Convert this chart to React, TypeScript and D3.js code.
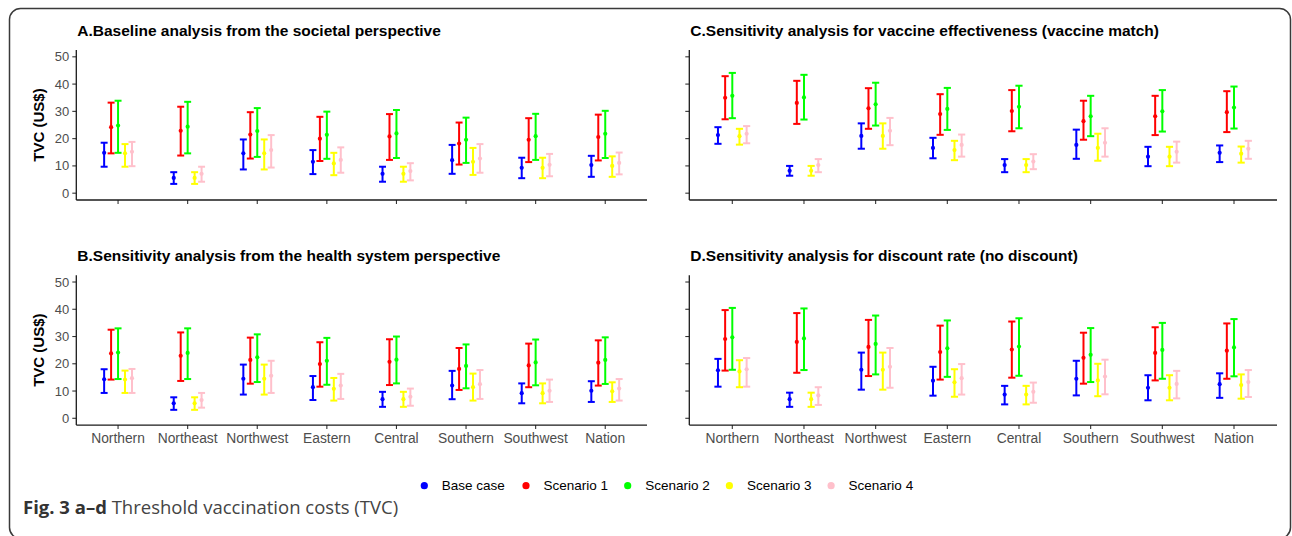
import React from "react";
import * as d3 from "d3";

const categories = ["Northern", "Northeast", "Northwest", "Eastern", "Central", "Southern", "Southwest", "Nation"];
const seriesNames = ["Base case", "Scenario 1", "Scenario 2", "Scenario 3", "Scenario 4"];
const seriesColors = ["#0000FF", "#FF0000", "#00FF00", "#FFFF00", "#FFC0CB"];
const yTicks = [0, 10, 20, 30, 40, 50];

// Panel A: baseline, societal perspective (rows: series, cols: categories)
const A_mid = [
  [14.8, 5.6, 14.6, 11.5, 7.1, 12.1, 9.3, 10.3],
  [24.2, 22.9, 21.5, 20.0, 20.8, 18.2, 19.6, 20.6],
  [24.8, 24.4, 22.8, 21.4, 21.9, 19.6, 20.9, 21.8],
  [14.6, 5.6, 14.6, 10.9, 7.1, 11.5, 9.3, 10.0],
  [15.2, 7.1, 15.8, 12.2, 8.1, 12.7, 10.4, 11.1],
];
const A_lo = [
  [9.7, 3.4, 8.7, 7.0, 4.2, 7.1, 5.5, 6.0],
  [14.6, 13.8, 12.7, 11.8, 12.2, 10.5, 11.4, 12.0],
  [14.8, 14.6, 13.3, 12.6, 12.9, 11.1, 12.2, 12.9],
  [9.7, 3.4, 8.7, 6.6, 4.2, 6.7, 5.5, 6.0],
  [9.9, 4.2, 9.4, 7.5, 4.7, 7.5, 6.2, 6.9],
];
const A_hi = [
  [18.5, 7.7, 19.7, 15.8, 9.7, 17.7, 13.0, 13.7],
  [33.2, 31.7, 29.7, 28.0, 29.0, 25.9, 27.5, 28.8],
  [33.9, 33.5, 31.2, 29.9, 30.5, 27.7, 29.1, 30.2],
  [18.0, 7.7, 19.7, 14.8, 9.7, 16.6, 13.0, 13.5],
  [18.8, 9.7, 21.3, 16.8, 11.0, 18.0, 14.4, 14.9],
];

// Panel B: health system perspective
const B_mid = [
  [14.3, 5.5, 14.5, 11.4, 7.0, 12.0, 9.2, 10.1],
  [23.8, 22.9, 21.4, 19.9, 20.7, 18.1, 19.4, 20.4],
  [24.1, 24.0, 22.4, 21.1, 21.5, 19.2, 20.5, 21.4],
  [14.2, 5.5, 14.5, 10.8, 7.0, 11.4, 9.2, 9.9],
  [14.7, 6.7, 15.6, 12.0, 7.9, 12.5, 10.1, 10.9],
];
const B_lo = [
  [9.3, 3.1, 8.7, 6.7, 4.2, 7.0, 5.5, 6.0],
  [14.2, 13.7, 12.7, 11.6, 12.2, 10.4, 11.4, 12.0],
  [14.4, 14.4, 13.3, 12.3, 12.8, 11.0, 12.1, 12.6],
  [9.3, 3.1, 8.7, 6.5, 4.2, 6.5, 5.5, 6.0],
  [9.3, 3.9, 9.3, 7.1, 4.6, 7.1, 6.0, 6.5],
];
const B_hi = [
  [18.0, 7.7, 19.7, 15.5, 9.7, 17.4, 12.8, 13.6],
  [32.5, 31.5, 29.6, 27.9, 29.0, 25.8, 27.4, 28.6],
  [33.0, 33.0, 30.8, 29.5, 30.0, 27.1, 28.9, 29.7],
  [17.5, 7.7, 19.7, 14.8, 9.7, 16.4, 12.8, 13.2],
  [18.1, 9.3, 21.1, 16.3, 10.9, 17.7, 14.2, 14.4],
];

// Panel C: vaccine effectiveness (vaccine match)
const C_mid = [
  [21.3, 8.2, 21.0, 16.6, 10.3, 17.7, 13.4, 14.8],
  [35.0, 33.1, 31.1, 29.0, 30.1, 26.4, 28.2, 29.7],
  [35.7, 35.1, 32.6, 30.9, 31.7, 28.2, 30.0, 31.4],
  [20.9, 8.2, 21.0, 15.8, 10.3, 16.6, 13.4, 14.5],
  [21.8, 10.3, 22.9, 17.7, 11.6, 18.5, 15.2, 16.3],
];
const C_lo = [
  [18.1, 6.4, 16.3, 12.8, 7.7, 12.6, 9.9, 11.4],
  [27.1, 25.4, 23.6, 21.4, 22.7, 19.6, 21.3, 22.4],
  [27.5, 27.0, 24.8, 23.2, 23.8, 20.9, 22.6, 23.7],
  [17.8, 6.4, 16.3, 12.1, 7.7, 11.9, 9.9, 11.2],
  [18.3, 7.7, 17.6, 13.4, 8.8, 13.4, 11.2, 12.6],
];
const C_hi = [
  [24.2, 10.0, 25.6, 20.3, 12.5, 23.3, 17.0, 17.5],
  [42.9, 41.2, 38.5, 36.3, 37.8, 33.9, 35.7, 37.4],
  [44.1, 43.4, 40.5, 38.6, 39.4, 35.7, 37.8, 39.1],
  [23.6, 10.0, 25.6, 19.2, 12.5, 21.8, 17.0, 17.1],
  [24.6, 12.5, 27.6, 21.5, 14.3, 23.8, 18.9, 19.2],
];

// Panel D: discount rate (no discount)
const D_mid = [
  [17.6, 7.0, 17.8, 13.8, 8.7, 14.5, 11.2, 12.5],
  [29.1, 28.0, 26.2, 24.3, 25.2, 22.2, 24.0, 24.8],
  [29.7, 29.3, 27.3, 25.7, 26.3, 23.3, 25.1, 26.0],
  [17.2, 7.0, 17.8, 13.2, 8.7, 13.9, 11.2, 12.2],
  [18.0, 8.4, 18.9, 14.7, 9.7, 15.3, 12.6, 13.3],
];
const D_lo = [
  [11.6, 4.2, 10.5, 8.3, 5.1, 8.4, 6.6, 7.5],
  [17.5, 16.7, 15.5, 14.2, 14.9, 12.7, 13.9, 14.5],
  [17.8, 17.7, 16.1, 15.2, 15.6, 13.3, 14.5, 15.4],
  [11.4, 4.2, 10.5, 7.9, 5.1, 8.1, 6.6, 7.2],
  [11.6, 4.9, 11.2, 8.7, 5.7, 8.8, 7.3, 7.8],
];
const D_hi = [
  [21.8, 9.4, 24.1, 18.9, 11.9, 21.1, 15.8, 16.5],
  [39.7, 38.6, 36.1, 34.0, 35.5, 31.4, 33.4, 34.8],
  [40.5, 40.3, 37.7, 35.9, 36.7, 33.1, 35.0, 36.4],
  [21.3, 9.4, 24.1, 18.0, 11.9, 20.0, 15.8, 16.1],
  [22.1, 11.4, 25.8, 19.9, 13.1, 21.5, 17.4, 17.7],
];

const FONT = "'Liberation Sans', Arial, Helvetica, sans-serif";

type PanelProps = {
  title: string;
  mid: number[][];
  lo: number[][];
  hi: number[][];
  x0: number;
  x1: number;
  yTop: number;
  yBottom: number;
  showYLabels: boolean;
  showXLabels: boolean;
};

function Panel({ title, mid, lo, hi, x0, x1, yTop, yBottom, showYLabels, showXLabels }: PanelProps) {
  const x = d3.scalePoint<string>().domain(categories).range([x0, x1]).padding(0.6);
  const y = d3.scaleLinear().domain([-2.5, 52.5]).range([yBottom, yTop]);
  const step = x.step();
  const dodge = 0.1 * step;
  const capHalf = 0.05 * step;
  const axisColor = "#1a1a1a";
  const tickColor = "#333333";
  return (
    <g>
      <text x={x0 + 1} y={yTop - 14} fontFamily={FONT} fontWeight="bold" fontSize={15.5} fill="#000">
        {title}
      </text>
      {showYLabels && (
        <text
          transform={`translate(${x0 - 38},${y(25)}) rotate(-90)`}
          textAnchor="middle"
          dominantBaseline="central"
          fontFamily={FONT}
          fontWeight="bold"
          fontSize={15}
          fill="#000"
        >
          TVC (US$)
        </text>
      )}
      {yTicks.map((t) => (
        <g key={"y" + t}>
          <line x1={x0 - 4} x2={x0} y1={y(t)} y2={y(t)} stroke={tickColor} strokeWidth={1.1} />
          {showYLabels && (
            <text
              x={x0 - 7}
              y={y(t)}
              textAnchor="end"
              dominantBaseline="central"
              fontFamily={FONT}
              fontSize={13}
              fill="#4D4D4D"
            >
              {t}
            </text>
          )}
        </g>
      ))}
      {categories.map((c) => (
        <g key={"x" + c}>
          <line x1={x(c)!} x2={x(c)!} y1={yBottom} y2={yBottom + 4} stroke={tickColor} strokeWidth={1.1} />
          {showXLabels && (
            <text
              x={x(c)!}
              y={yBottom + 13}
              textAnchor="middle"
              dominantBaseline="central"
              fontFamily={FONT}
              fontSize={13.8}
              fill="#4D4D4D"
            >
              {c}
            </text>
          )}
        </g>
      ))}
      <line x1={x0} x2={x0} y1={yTop} y2={yBottom} stroke={axisColor} strokeWidth={1.3} />
      <line x1={x0} x2={x1} y1={yBottom} y2={yBottom} stroke={axisColor} strokeWidth={1.3} />
      {seriesNames.map((s, si) => (
        <g key={s}>
          {categories.map((c, ci) => {
            const cx = x(c)! + (si - 2) * dodge;
            const col = seriesColors[si];
            return (
              <g key={c}>
                <line x1={cx} x2={cx} y1={y(lo[si][ci])} y2={y(hi[si][ci])} stroke={col} strokeWidth={2} />
                <line x1={cx - capHalf} x2={cx + capHalf} y1={y(lo[si][ci])} y2={y(lo[si][ci])} stroke={col} strokeWidth={2} />
                <line x1={cx - capHalf} x2={cx + capHalf} y1={y(hi[si][ci])} y2={y(hi[si][ci])} stroke={col} strokeWidth={2} />
                <circle cx={cx} cy={y(mid[si][ci])} r={2.1} fill={col} />
              </g>
            );
          })}
        </g>
      ))}
    </g>
  );
}

export default function App() {
  const legendX0 = 424.3;
  const legendStep = 101.7;
  const legendY = 485.7;
  return (
    <svg
      width={1292}
      height={536}
      viewBox="0 0 1292 536"
      style={{ position: "absolute", left: 0, top: 0, background: "#fff" }}
    >
      <rect x={0} y={0} width={1292} height={536} fill="#fff" />
      <rect x={9.5} y={8.5} width={1281} height={530} rx={11} ry={11} fill="none" stroke="#3a3a3a" strokeWidth={1.5} />
      <Panel title="A.Baseline analysis from the societal perspective" mid={A_mid} lo={A_lo} hi={A_hi}
        x0={76.3} x1={647} yTop={50} yBottom={200} showYLabels={true} showXLabels={false} />
      <Panel title="C.Sensitivity analysis for vaccine effectiveness (vaccine match)" mid={C_mid} lo={C_lo} hi={C_hi}
        x0={689.3} x1={1277} yTop={50} yBottom={200} showYLabels={false} showXLabels={false} />
      <Panel title="B.Sensitivity analysis from the health system perspective" mid={B_mid} lo={B_lo} hi={B_hi}
        x0={76.3} x1={647} yTop={275.2} yBottom={425.1} showYLabels={true} showXLabels={true} />
      <Panel title="D.Sensitivity analysis for discount rate (no discount)" mid={D_mid} lo={D_lo} hi={D_hi}
        x0={689.3} x1={1277} yTop={275.2} yBottom={425.1} showYLabels={false} showXLabels={true} />
      {seriesNames.map((s, i) => (
        <g key={s}>
          <circle cx={legendX0 + i * legendStep} cy={legendY} r={3.6} fill={seriesColors[i]} />
          <text x={legendX0 + i * legendStep + 17.5} y={legendY} dominantBaseline="central"
            fontFamily={FONT} fontSize={13.5} fill="#000">
            {s}
          </text>
        </g>
      ))}
      <text x={23} y={514} fontFamily="'Open Sans', 'Noto Sans', sans-serif" fontSize={18.5} fill="#333">
        <tspan fontWeight="bold">Fig. 3 a–d</tspan>
        <tspan fill="#444"> Threshold vaccination costs (TVC)</tspan>
      </text>
    </svg>
  );
}
